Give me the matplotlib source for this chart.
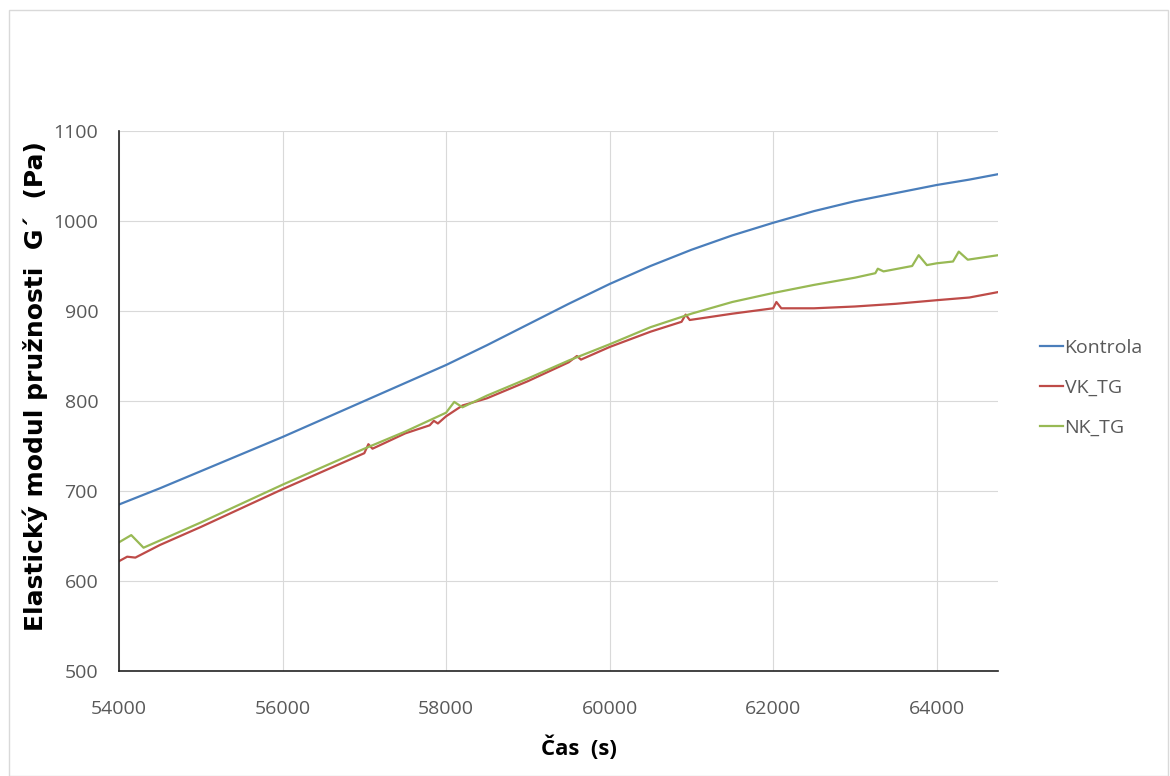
import matplotlib
matplotlib.use('Agg')
import matplotlib.pyplot as plt
from matplotlib.patches import Rectangle

plt.rcParams['font.family'] = ['Open Sans', 'DejaVu Sans']

# Kontrola
t_k = [54000, 54500, 55000, 55500, 56000, 56500, 57000, 57500, 58000, 58500,
       59000, 59500, 60000, 60500, 61000, 61500, 62000, 62500, 63000, 63500,
       64000, 64400, 64750]
g_k = [685, 703, 722, 741, 760, 780, 800, 820, 840, 862,
       885, 908, 930, 950, 968, 984, 998, 1011, 1022, 1031,
       1040, 1046, 1052]

# VK_TG
t_vk = [54000, 54100, 54200, 54500, 55000, 55500, 56000, 56500, 57000, 57050,
        57100, 57500, 57800, 57850, 57900, 58000, 58200, 58500, 59000, 59500,
        59600, 59650, 60000, 60500, 60880, 60930, 60980, 61500, 62000, 62040,
        62100, 62500, 63000, 63500, 64000, 64400, 64750]
g_vk = [622, 627, 626, 640, 660, 681, 702, 722, 742, 752,
        747, 764, 773, 778, 775, 783, 795, 803, 822, 843,
        850, 846, 860, 877, 888, 896, 890, 897, 903, 910,
        903, 903, 905, 908, 912, 915, 921]

# NK_TG
t_nk = [54000, 54150, 54300, 54500, 55000, 55500, 56000, 56500, 57000, 57500,
        58000, 58100, 58200, 58500, 59000, 59500, 60000, 60500, 61000, 61500,
        62000, 62500, 63000, 63250, 63280, 63350, 63700, 63780, 63880, 64000,
        64200, 64270, 64380, 64750]
g_nk = [643, 651, 637, 645, 665, 686, 707, 727, 747, 766,
        787, 799, 793, 806, 825, 845, 863, 882, 897, 910,
        920, 929, 937, 942, 947, 944, 950, 962, 951, 953,
        955, 966, 957, 962]

series = [('Kontrola', t_k, g_k, '#4a7ebb'),
          ('VK_TG', t_vk, g_vk, '#be4b48'),
          ('NK_TG', t_nk, g_nk, '#98b954')]

W, H = 1170, 776
fig = plt.figure(figsize=(11.7, 7.76), dpi=100)
ax = fig.add_axes([119 / W, 1 - 671 / H, 879 / W, 540 / H])

for name, t, g, c in series:
    ax.plot(t, g, color=c, lw=1.6, label=name)

ax.set_xlim(54000, 64750)
ax.set_ylim(500, 1100)
ax.set_xticks(range(54000, 64001, 2000))
ax.set_yticks(range(500, 1101, 100))
ax.grid(True, color='#d9d9d9', lw=0.8)
ax.set_axisbelow(True)
for s in ['top', 'right']:
    ax.spines[s].set_visible(False)
for s in ['left', 'bottom']:
    ax.spines[s].set_color('#222222')
    ax.spines[s].set_linewidth(1.2)
ax.tick_params(length=0, labelsize=14, labelcolor='#595959')
ax.tick_params(axis='y', pad=15)
ax.tick_params(axis='x', pad=21)

# axis titles
fig.text(579 / W, 1 - 748 / H, 'Čas  (s)', fontsize=16, fontweight='bold',
         ha='center', va='center')
fig.text(35 / W, 1 - 386 / H, 'Elastický modul pružnosti  G´  (Pa)', fontsize=18,
         fontweight='bold', family='DejaVu Sans', rotation=90, ha='center', va='center')

leg = ax.legend(loc='center left', bbox_to_anchor=(1.037, 0.524), frameon=False,
                borderpad=0, handlelength=1.15, handletextpad=0.1, labelspacing=1.13,
                prop={'size': 14})
for txt in leg.get_texts():
    txt.set_color('#595959')

fig.patches.append(Rectangle((0.008, 0.0), 0.99, 0.987, transform=fig.transFigure,
                             fill=False, edgecolor='#d9d9d9', lw=1))

fig.savefig('out.png', dpi=100)
